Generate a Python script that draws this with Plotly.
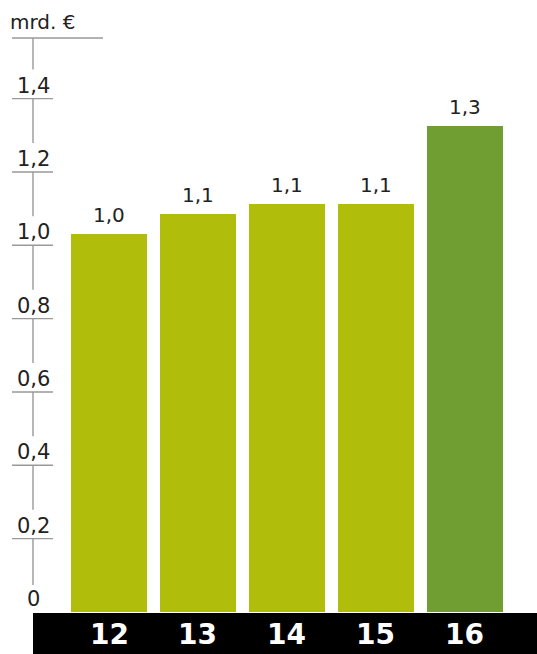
import plotly.graph_objects as go

years = ["12", "13", "14", "15", "16"]
values = [1.03, 1.085, 1.112, 1.112, 1.325]
value_labels = ["1,0", "1,1", "1,1", "1,1", "1,3"]
tick_vals = [1.4, 1.2, 1.0, 0.8, 0.6, 0.4, 0.2]
tick_labels = ["1,4", "1,2", "1,0", "0,8", "0,6", "0,4", "0,2"]
unit_label = "mrd. €"

W, H = 537, 654
PX_PER_X = 88.9
X0_PX = 109.0
Y0_PX = 612.0
PX_PER_Y = 366.7

def xd(px):
    return (px - X0_PX) / PX_PER_X

def yd(py):
    return (Y0_PX - py) / PX_PER_Y

FONT = "DejaVu Sans"
TXT = "#222222"
GRID = "#999999"
colors = ["#B0BE0B"] * 4 + ["#709E33"]
xs = list(range(len(years)))

fig = go.Figure()
fig.add_trace(go.Bar(
    x=xs, y=values, width=0.855, marker=dict(color=colors, line=dict(width=0)),
    hoverinfo="skip",
))

shapes = []
# black band
shapes.append(dict(type="rect", xref="x", yref="y", x0=xd(33), x1=xd(540),
                   y0=yd(655), y1=yd(613), fillcolor="#000000", line=dict(width=0), layer="above"))
# top line
shapes.append(dict(type="line", xref="x", yref="y", x0=xd(12), x1=xd(103),
                   y0=yd(38), y1=yd(38), line=dict(color=GRID, width=1.4), layer="below"))
# tick lines
for tv in tick_vals:
    shapes.append(dict(type="line", xref="x", yref="y", x0=xd(12), x1=xd(53),
                       y0=tv, y1=tv, line=dict(color=GRID, width=1.4), layer="below"))
# vertical axis segments between labels
seg_starts = [yd(38)] + tick_vals
seg_ends = [tv + 29 / PX_PER_Y for tv in tick_vals] + [yd(585)]
for s, e in zip(seg_starts, seg_ends):
    shapes.append(dict(type="line", xref="x", yref="y", x0=xd(33), x1=xd(33),
                       y0=s, y1=e, line=dict(color=GRID, width=1.4), layer="below"))

annotations = []
for tv, tl in zip(tick_vals, tick_labels):
    annotations.append(dict(x=xd(33), y=tv, xref="x", yref="y", text=tl,
                            showarrow=False, yanchor="bottom", xanchor="center",
                            font=dict(family=FONT, size=21, color=TXT), borderpad=0))
annotations.append(dict(x=xd(33), y=0, xref="x", yref="y", text="0", showarrow=False,
                        yanchor="bottom", xanchor="center",
                        font=dict(family=FONT, size=21, color=TXT), borderpad=0))
annotations.append(dict(x=xd(9), y=yd(9), xref="x", yref="y", text=unit_label, showarrow=False,
                        yanchor="top", xanchor="left",
                        font=dict(family=FONT, size=20, color=TXT), borderpad=0))
for x, v, lab in zip(xs, values, value_labels):
    annotations.append(dict(x=x, y=v, xref="x", yref="y", text=lab, showarrow=False,
                            yanchor="bottom", xanchor="center", yshift=6,
                            font=dict(family=FONT, size=20, color=TXT), borderpad=0))
for x, lab in zip(xs, years):
    annotations.append(dict(x=x, y=yd(634), xref="x", yref="y", text="<b>" + lab + "</b>",
                            showarrow=False, yanchor="middle", xanchor="center",
                            font=dict(family=FONT, size=28, color="#FFFFFF")))

fig.update_layout(
    width=W, height=H, margin=dict(l=0, r=0, t=0, b=0),
    paper_bgcolor="#FFFFFF", plot_bgcolor="#FFFFFF",
    showlegend=False, bargap=0,
    xaxis=dict(range=[xd(0), xd(W)], visible=False, fixedrange=True),
    yaxis=dict(range=[yd(H), yd(0)], visible=False, fixedrange=True),
    shapes=shapes, annotations=annotations,
)
fig.write_html("out.html", config={"displayModeBar": False},
               post_script="document.body.style.margin='0';document.body.style.overflow='hidden';")
